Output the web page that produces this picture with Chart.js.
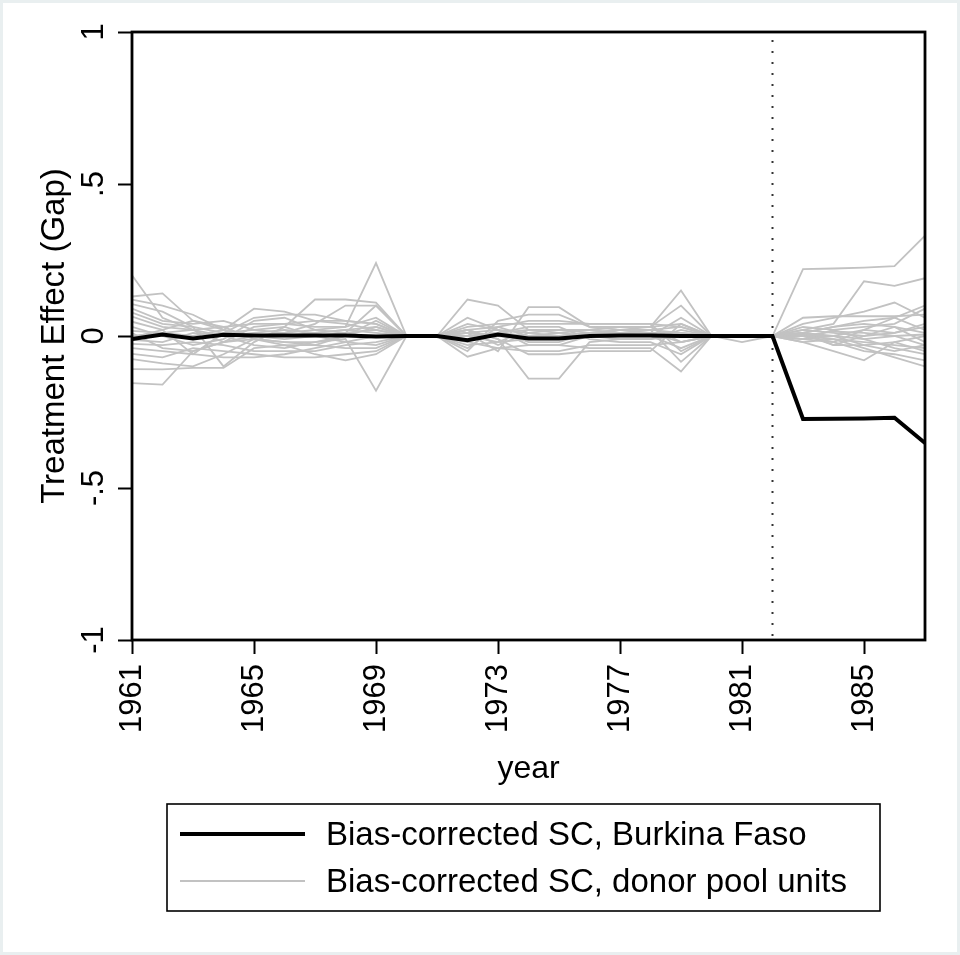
<!DOCTYPE html>
<html lang="en">
<head>
<meta charset="UTF-8">
<title>Treatment Effect (Gap)</title>
<script src="https://cdn.jsdelivr.net/npm/chart.js@4.4.0/dist/chart.umd.min.js"></script>
<style>
  html, body { margin: 0; padding: 0; background: #fff; }
  #wrap { width: 960px; height: 955px; }
</style>
</head>
<body>
<div id="wrap"><canvas id="chart" width="960" height="955"></canvas></div>
<script>
// years and tick marks
const years = [1961, 1962, 1963, 1964, 1965, 1966, 1967, 1968, 1969, 1970, 1971, 1972, 1973, 1974,
               1975, 1976, 1977, 1978, 1979, 1980, 1981, 1982, 1983, 1984, 1985, 1986, 1987];
const xTicks = [1961, 1965, 1969, 1973, 1977, 1981, 1985];
const yTicks = [-1, -0.5, 0, 0.5, 1];
const yTickLabels = ['-1', '-.5', '0', '.5', '1'];
const treatmentYear = 1982;

// Burkina Faso gap
const burkina = [-0.01, 0.005, -0.008, 0.004, 0.002, 0.002, 0.002, 0.002, -0.002, 0, 0, -0.014, 0.005, -0.008, -0.008, 0.0,
                 0.002, 0.002, 0.0, 0, 0, 0, -0.273, -0.272, -0.271, -0.269, -0.352];

// donor pool units
const d01 = [0.20, 0.06, 0.02, 0.00, 0.01, 0.02, 0.01, 0.02, 0.03, 0, 0, 0.01, 0.02, 0.01, 0.00, 0.01, 0.02, 0.02, 0.01, 0, 0, 0, 0.22, 0.222, 0.225, 0.23, 0.33];
const d02 = [0.13, 0.14, 0.05, 0.02, 0.00, -0.01, 0.00, 0.01, 0.10, 0, 0, 0.04, 0.02, -0.03, -0.03, 0.00, 0.01, 0.02, 0.03, 0, 0, 0, 0.02, 0.04, 0.18, 0.165, 0.19];
const d03 = [0.12, 0.10, 0.07, 0.02, 0.09, 0.08, 0.05, 0.04, 0.02, 0, 0, 0.02, -0.03, 0.01, 0.02, 0.02, 0.03, 0.03, 0.15, 0, 0, 0, 0.04, 0.06, 0.08, 0.11, 0.06];
const d04 = [0.105, 0.08, 0.03, -0.10, -0.02, 0.03, 0.12, 0.12, 0.11, 0, 0, 0.12, 0.10, 0.02, 0.01, 0.00, 0.02, 0.03, 0.04, 0, 0, 0, 0.06, 0.065, 0.065, 0.065, 0.07];
const d05 = [0.09, 0.05, 0.04, 0.05, 0.02, 0.01, 0.04, 0.10, 0.10, 0, 0, 0.01, -0.05, 0.095, 0.095, 0.03, 0.02, 0.01, -0.02, 0, 0, 0, 0.01, 0.03, 0.05, 0.06, 0.02];
const d06 = [0.077, 0.04, 0.03, 0.01, 0.06, 0.07, 0.07, 0.05, 0.04, 0, 0, -0.05, 0.05, 0.07, 0.07, 0.03, 0.03, 0.03, 0.10, 0, 0, 0, -0.01, 0.02, 0.03, 0.04, 0.09];
const d07 = [0.064, 0.03, 0.02, -0.02, 0.03, 0.04, 0.05, 0.05, 0.04, 0, 0, 0.03, 0.04, 0.04, 0.04, 0.04, 0.04, 0.04, 0.03, 0, -0.02, 0, 0.00, -0.02, -0.05, -0.06, -0.08];
const d08 = [0.047, 0.02, 0.05, 0.03, -0.01, -0.03, -0.03, 0.00, 0.05, 0, 0, -0.02, -0.04, -0.05, -0.05, -0.03, -0.03, -0.03, -0.02, 0, 0, 0, 0.02, 0.01, 0.00, 0.01, 0.03];
const d09 = [0.03, 0.00, -0.03, -0.01, 0.05, 0.06, 0.02, 0.01, 0.02, 0, 0, 0.02, 0.03, 0.00, 0.01, 0.02, 0.01, 0.00, -0.04, 0, 0, 0, 0.005, -0.03, -0.03, -0.02, -0.05];
const d10 = [0.017, 0.01, 0.00, 0.02, 0.00, 0.00, 0.01, 0.02, 0.01, 0, 0, -0.03, -0.02, 0.02, 0.02, 0.01, 0.00, 0.00, 0.06, 0, 0, 0, -0.01, 0.00, 0.02, 0.06, 0.10];
const d11 = [-0.013, -0.02, 0.01, 0.00, -0.03, -0.04, -0.02, 0.00, 0.03, 0, 0, 0.00, 0.01, 0.03, 0.03, -0.01, -0.02, -0.02, -0.06, 0, 0, 0, -0.02, -0.05, -0.08, -0.02, 0.00];
const d12 = [-0.026, -0.03, -0.02, -0.03, -0.05, -0.05, -0.05, -0.03, -0.02, 0, 0, 0.06, 0.02, -0.02, -0.02, 0.01, 0.02, 0.02, -0.085, 0, 0, 0, 0.03, 0.02, -0.01, -0.04, -0.06];
const d13 = [-0.04, -0.05, -0.06, 0.01, 0.02, 0.03, 0.00, -0.02, -0.03, 0, 0, -0.068, -0.04, -0.03, -0.03, -0.04, -0.04, -0.04, -0.117, 0, 0, 0, 0.01, -0.03, 0.00, 0.03, -0.02];
const d14 = [-0.059, -0.07, -0.04, -0.05, -0.06, -0.07, -0.07, -0.06, -0.05, 0, 0, 0.02, -0.01, -0.14, -0.14, -0.02, -0.01, -0.01, 0.02, 0, 0, 0, -0.02, -0.01, -0.04, -0.07, -0.10];
const d15 = [-0.076, -0.09, -0.10, -0.06, -0.01, -0.02, -0.03, -0.04, -0.04, 0, 0, 0.01, 0.00, -0.01, -0.01, 0.00, 0.00, 0.00, 0.00, 0, 0, 0, 0.00, 0.015, 0.01, 0.00, -0.03];
const d16 = [-0.109, -0.11, -0.105, -0.105, -0.04, -0.03, -0.06, -0.08, -0.06, 0, 0, -0.01, 0.01, 0.02, 0.02, 0.02, 0.03, 0.03, -0.02, 0, 0, 0, 0.00, -0.01, -0.02, -0.03, -0.04];
const d17 = [-0.155, -0.16, -0.05, -0.02, -0.01, -0.02, -0.02, -0.01, -0.18, 0, 0, 0.00, -0.02, -0.01, -0.01, 0.00, -0.01, -0.01, 0.00, 0, 0, 0, 0.01, 0.03, 0.04, 0.03, 0.01];
const d18 = [0.00, 0.01, 0.02, 0.03, 0.04, 0.04, 0.03, 0.03, 0.24, 0, 0, 0.00, 0.01, 0.00, 0.00, 0.01, 0.01, 0.01, 0.01, 0, 0, 0, 0.00, 0.00, -0.01, 0.00, 0.005];
const d19 = [0.01, -0.04, -0.05, -0.02, 0.00, 0.01, 0.02, 0.03, 0.06, 0, 0, -0.04, 0.03, 0.05, 0.05, 0.04, 0.04, 0.04, -0.05, 0, 0, 0, -0.01, -0.02, 0.02, 0.01, 0.04];
const d20 = [-0.005, 0.02, -0.06, -0.07, -0.07, -0.06, -0.04, -0.02, 0.00, 0, 0, 0.02, -0.01, -0.06, -0.06, -0.05, -0.05, -0.05, 0.04, 0, 0, 0, 0.01, 0.00, -0.03, -0.05, -0.03];
const donors = [d01, d02, d03, d04, d05, d06, d07, d08, d09, d10, d11, d12, d13, d14, d15, d16, d17, d18, d19, d20];

const FONT = '"Liberation Sans", Arial, Helvetica, sans-serif';
const GRAY = '#c2c2c2';

const toPoints = vals => years.map((yr, i) => ({ x: yr, y: vals[i] }));

const datasets = [{
  label: 'Bias-corrected SC, Burkina Faso',
  data: toPoints(burkina),
  borderColor: '#000',
  borderWidth: 4,
  order: 0
}];
donors.forEach((d, i) => {
  datasets.push({
    label: 'donor ' + (i + 1),
    data: toPoints(d),
    borderColor: GRAY,
    borderWidth: 1.8,
    order: 1
  });
});

const chartPlugin = {
  id: 'stataLook',
  beforeDraw(chart) {
    const c = chart.ctx;
    c.save();
    c.fillStyle = '#fff';
    c.fillRect(0, 0, chart.width, chart.height);
    c.strokeStyle = '#e9eff0';
    c.lineWidth = 3;
    c.strokeRect(1.5, 1.5, chart.width - 3, chart.height - 3);
    c.restore();
  },
  beforeDatasetsDraw(chart) {
    // dotted line at treatment year
    const c = chart.ctx, a = chart.chartArea;
    const x = chart.scales.x.getPixelForValue(treatmentYear);
    c.save();
    c.strokeStyle = '#333';
    c.lineWidth = 2;
    c.setLineDash([2, 9]);
    c.beginPath();
    c.moveTo(x, a.top + 8);
    c.lineTo(x, a.bottom);
    c.stroke();
    c.restore();
  },
  afterDraw(chart) {
    const c = chart.ctx, a = chart.chartArea;
    c.save();
    // plot frame
    c.strokeStyle = '#000';
    c.lineWidth = 2.8;
    c.strokeRect(a.left, a.top, a.right - a.left, a.bottom - a.top);

    // legend box
    c.lineWidth = 1.6;
    c.strokeRect(167, 804, 713, 107);
    c.lineWidth = 4;
    c.beginPath(); c.moveTo(180, 834); c.lineTo(305, 834); c.stroke();
    c.strokeStyle = GRAY;
    c.lineWidth = 1.8;
    c.beginPath(); c.moveTo(180, 881); c.lineTo(305, 881); c.stroke();
    c.fillStyle = '#000';
    c.font = '33px ' + FONT;
    c.textBaseline = 'middle';
    c.fillText(chart.data.datasets[0].label, 326, 836);
    c.fillText('Bias-corrected SC, donor pool units', 326, 883);
    c.restore();
  }
};

const tickGrid = {
  drawOnChartArea: false,
  drawTicks: true,
  tickLength: 14,
  tickWidth: 2,
  tickColor: '#000',
  color: '#000'
};

new Chart(document.getElementById('chart'), {
  type: 'line',
  data: { datasets },
  options: {
    responsive: false,
    animation: false,
    layout: { padding: { left: 0, right: 35, top: 32, bottom: 165 } },
    plugins: { legend: { display: false }, tooltip: { enabled: false } },
    elements: { point: { radius: 0 }, line: { tension: 0 } },
    scales: {
      x: {
        type: 'linear',
        min: 1961,
        max: 1987,
        afterBuildTicks: s => { s.ticks = xTicks.map(v => ({ value: v })); },
        afterFit: s => { s.height = 150; },
        grid: tickGrid,
        border: { display: false },
        ticks: {
          minRotation: 90,
          maxRotation: 90,
          padding: 10,
          color: '#000',
          font: { family: FONT, size: 31 },
          callback: v => String(v)
        },
        title: {
          display: true,
          text: 'year',
          color: '#000',
          font: { family: FONT, size: 32 },
          padding: { top: 0, bottom: 2 }
        }
      },
      y: {
        min: -1,
        max: 1,
        afterBuildTicks: s => { s.ticks = yTicks.map(v => ({ value: v })); },
        afterFit: s => { s.width = 132; },
        grid: tickGrid,
        border: { display: false },
        ticks: {
          minRotation: 90,
          crossAlign: 'center',
          padding: 5,
          color: '#000',
          font: { family: FONT, size: 31 },
          callback: (v, i) => yTickLabels[i]
        },
        title: {
          display: true,
          text: 'Treatment Effect (Gap)',
          color: '#000',
          font: { family: FONT, size: 33 },
          padding: { top: 35, bottom: 0 }
        }
      }
    }
  },
  plugins: [chartPlugin]
});
</script>
</body>
</html>
